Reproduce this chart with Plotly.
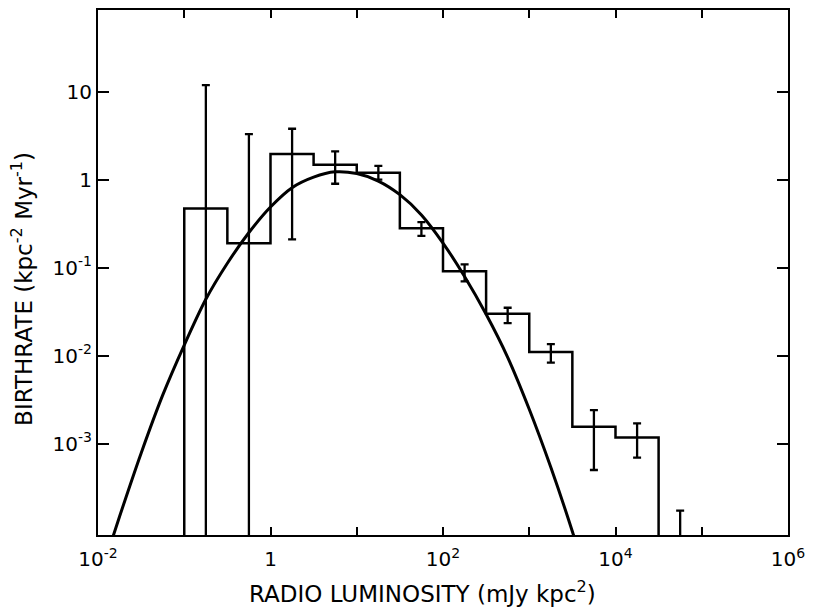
import plotly.graph_objects as go

# ---- data ----
bin_edges = [0.1, 0.316, 1.0, 3.16, 10.0, 31.6, 100.0, 316.0, 1000.0, 3160.0, 10000.0, 31600.0]
bin_values = [0.47, 0.19, 1.96, 1.48, 1.2, 0.28, 0.091, 0.030, 0.011, 0.00155, 0.00117]

err_x = [0.178, 0.562, 1.78, 5.62, 17.8, 56.2, 178.0, 562.0, 1780.0, 5620.0, 17800.0, 56200.0]
err_hi = [11.9, 3.3, 3.8, 2.1, 1.44, 0.33, 0.109, 0.035, 0.0135, 0.0024, 0.0017, 0.000173]
err_lo = [1e-5, 1e-5, 0.21, 0.9, 1.0, 0.23, 0.070, 0.0234, 0.0083, 0.0005, 0.00069, 1e-5]

curve_logL = [-1.85, -1.75, -1.5, -1.25, -1.0, -0.75, -0.5, -0.25, 0.0, 0.25, 0.5, 0.75,
              1.0, 1.25, 1.5, 1.75, 2.0, 2.25, 2.5, 2.75, 3.0, 3.25, 3.5, 3.55]
curve_logB = [-4.13, -3.83, -3.11, -2.45, -1.88, -1.36, -0.95, -0.6, -0.31, -0.09, 0.03, 0.09,
              0.07, -0.015, -0.17, -0.40, -0.72, -1.1, -1.53, -2.02, -2.61, -3.27, -4.0, -4.16]

x_tickvals = [0.01, 1, 100, 1e4, 1e6]
x_ticktext = ["10<sup>-2</sup>", "1", "10<sup>2</sup>", "10<sup>4</sup>", "10<sup>6</sup>"]
x_minor_vals = [0.1, 10, 1000, 1e5]
y_tickvals = [1e-3, 1e-2, 1e-1, 1, 10]
y_ticktext = ["10<sup>-3</sup>", "10<sup>-2</sup>", "10<sup>-1</sup>", "1", "10"]

FLOOR = 1e-5  # below the visible axis range

# step histogram path built from the bins
hx = [bin_edges[0]]
hy = [FLOOR]
for i, v in enumerate(bin_values):
    hx.append(bin_edges[i])
    hy.append(v)
hx.append(bin_edges[-1])
hy.append(bin_values[-1])
hx.append(bin_edges[-1])
hy.append(FLOOR)

ey = err_hi
e_plus = [0.0 for _ in err_hi]
e_minus = [h - l for h, l in zip(err_hi, err_lo)]

fig = go.Figure()

fig.add_trace(go.Scatter(
    x=hx, y=hy, mode="lines", line=dict(color="black", width=2.5, shape="hv"),
    showlegend=False, hoverinfo="skip"))

fig.add_trace(go.Scatter(
    x=err_x, y=ey, mode="markers",
    marker=dict(size=1, color="rgba(0,0,0,0)"),
    error_y=dict(type="data", symmetric=False, array=e_plus, arrayminus=e_minus,
                 color="black", thickness=2.3, width=4),
    showlegend=False, hoverinfo="skip"))

fig.add_trace(go.Scatter(
    x=[10 ** v for v in curve_logL], y=[10 ** v for v in curve_logB], mode="lines",
    line=dict(color="black", width=3, shape="spline", smoothing=0.8),
    showlegend=False, hoverinfo="skip"))

axis_font = dict(family="DejaVu Sans", size=20, color="black")

fig.update_xaxes(
    type="log", range=[-2, 6], tickmode="array", tickvals=x_tickvals, ticktext=x_ticktext,
    ticks="inside", ticklen=8, tickwidth=2, tickcolor="black", ticklabelstandoff=5,
    minor=dict(tickmode="array", tickvals=x_minor_vals, ticks="inside", ticklen=8,
               tickwidth=2, tickcolor="black", showgrid=False),
    showline=True, linewidth=2, linecolor="black", mirror="ticks",
    showgrid=False, zeroline=False, tickfont=axis_font)
fig.update_yaxes(
    type="log", range=[-4.04, 1.93], tickmode="array", tickvals=y_tickvals, ticktext=y_ticktext,
    ticks="inside", ticklen=11, tickwidth=2, tickcolor="black",
    showline=True, linewidth=2, linecolor="black", mirror="ticks",
    showgrid=False, zeroline=False, tickfont=axis_font)

fig.update_layout(
    width=813, height=609,
    margin=dict(l=98, r=19, t=8, b=74),
    paper_bgcolor="white", plot_bgcolor="white",
    annotations=[
        dict(text="RADIO LUMINOSITY (mJy kpc<sup>2</sup>)", xref="paper", yref="paper",
             x=0.471, y=-0.108, showarrow=False, xanchor="center", yanchor="middle",
             font=dict(family="DejaVu Sans", size=23, color="black")),
        dict(text="BIRTHRATE (kpc<sup>-2</sup> Myr<sup>-1</sup>)", xref="paper", yref="paper",
             x=-0.11, y=0.469, showarrow=False, xanchor="center", yanchor="middle",
             textangle=-90, font=dict(family="DejaVu Sans", size=23, color="black")),
    ],
)

fig.write_html("out.html")
